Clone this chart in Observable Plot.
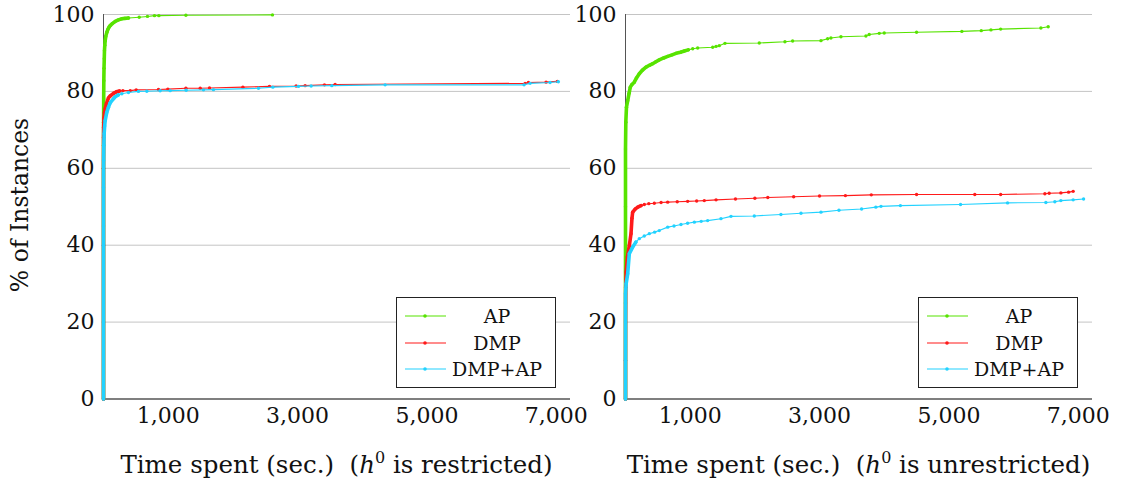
<!DOCTYPE html>
<html>
<head>
<meta charset="utf-8">
<script src="https://cdn.jsdelivr.net/npm/d3@7"></script>
<script src="https://cdn.jsdelivr.net/npm/@observablehq/plot@0.6"></script>
<style>
  html, body { margin: 0; padding: 0; background: #fff; }
  #wrap { position: relative; width: 1124px; height: 487px; font-family: "DejaVu Serif", serif; color: #111; }
  .panel { position: absolute; top: 0; }
  .xlabel { position: absolute; top: 450px; font-size: 24.5px; white-space: nowrap; transform: translateX(-50%); font-family: "DejaVu Serif", serif; }
  .ylabel { position: absolute; left: 20px; top: 205px; font-size: 23.5px; white-space: nowrap; transform: translate(-50%, -50%) rotate(-90deg); font-family: "DejaVu Serif", serif; }
  .legend { position: absolute; top: 297px; width: 158px; height: 89px; border: 1px solid #222; background: #fff; font-size: 19px; font-family: "DejaVu Serif", serif; }
  .legend .row { position: absolute; left: 0; width: 158px; height: 24px; }
  .legend svg { position: absolute; left: 0; top: 0; }
  .legend .lab { position: absolute; left: 100px; top: 0; transform: translateX(-50%); line-height: 24px; white-space: nowrap; }
</style>
</head>
<body>
<div id="wrap"></div>
<script>
// ---- data ----
const seriesNames = ["AP", "DMP", "DMP+AP"];
const seriesColors = ["#57e300", "#ff1a1a", "#22d2ff"];
const xTicks = [1000, 3000, 5000, 7000];
const yTicks = [0, 20, 40, 60, 80, 100];
const xLabels = ["restricted", "unrestricted"];

// h0 restricted
const apRestrictedTime = [0, 0, 0, 0, 1, 2, 3, 5, 8, 12, 15, 20, 26, 35, 52, 70, 85, 103, 140, 181, 230, 284, 330, 386, 552, 680, 788, 856, 1274, 2612];
const apRestrictedPct  = [0, 20, 45, 60, 66, 72, 78, 82.8, 86, 88.5, 90.6, 92, 93.2, 94.3, 95.4, 96.2, 96.7, 97.1, 97.7, 98.2, 98.6, 98.9, 99.0, 99.1, 99.3, 99.5, 99.7, 99.7, 99.8, 99.9];
const dmpRestrictedTime = [0, 0, 0, 0, 1, 3, 8, 15, 26, 45, 77, 103, 155, 200, 247, 300, 413, 505, 850, 995, 1274, 1495, 1639, 2155, 2566, 2978, 3117, 3416, 3581, 6518, 6569, 6842, 7017];
const dmpRestrictedPct  = [0, 20, 40, 60, 68, 70.7, 73, 74.5, 75.5, 76.8, 78.3, 78.8, 79.5, 79.9, 80.1, 80.2, 80.2, 80.4, 80.5, 80.6, 80.8, 80.8, 80.9, 81.1, 81.3, 81.4, 81.5, 81.7, 81.8, 82.1, 82.3, 82.4, 82.6];
const dmpApRestrictedTime = [0, 0, 0, 0, 2, 5, 10, 18, 26, 50, 77, 103, 155, 181, 230, 284, 386, 541, 670, 876, 1031, 1278, 1546, 1700, 2396, 2618, 3014, 3210, 3530, 4354, 6502, 6595, 6904, 7032];
const dmpApRestrictedPct  = [0, 20, 40, 55, 62, 66, 69, 71, 72.4, 74.5, 75.9, 77, 78.1, 78.6, 79.1, 79.4, 79.7, 80.0, 80.05, 80.15, 80.2, 80.3, 80.4, 80.45, 80.8, 81.1, 81.3, 81.4, 81.5, 81.7, 81.7, 82.1, 82.3, 82.5];

// h0 unrestricted
const apUnrestrictedTime = [0, 0, 0, 0, 5, 15, 34, 55, 74, 100, 136, 170, 213, 260, 317, 370, 420, 470, 522, 590, 652, 720, 781, 850, 909, 970, 1039, 1116, 1348, 1400, 1450, 1538, 2068, 2465, 2584, 3022, 3125, 3176, 3331, 3717, 3768, 3923, 4000, 4500, 5200, 5500, 5650, 5800, 6422, 6535];
const apUnrestrictedPct  = [0, 25, 50, 65, 72, 75.9, 77.6, 79.5, 81.1, 81.8, 82.4, 83.5, 84.6, 85.5, 86.3, 86.8, 87.2, 87.7, 88.2, 88.7, 89.1, 89.5, 89.9, 90.2, 90.5, 90.8, 91.1, 91.3, 91.5, 91.7, 91.9, 92.5, 92.6, 92.9, 93.1, 93.2, 93.7, 93.9, 94.2, 94.4, 94.8, 95.1, 95.2, 95.4, 95.6, 95.8, 96.0, 96.2, 96.5, 96.8];
const dmpUnrestrictedTime = [0, 0, 1, 3, 10, 30, 60, 85, 100, 111, 150, 189, 240, 291, 360, 445, 550, 652, 800, 961, 1100, 1218, 1400, 1700, 2000, 2200, 2600, 3000, 3400, 3800, 4500, 5400, 5800, 6484, 6550, 6731, 6850, 6921];
const dmpUnrestrictedPct  = [0, 10, 20, 29, 33, 37, 40, 43, 47, 48.6, 49.4, 49.9, 50.3, 50.6, 50.8, 50.9, 51.1, 51.2, 51.3, 51.4, 51.5, 51.6, 51.8, 52.0, 52.2, 52.4, 52.6, 52.8, 52.9, 53.1, 53.2, 53.2, 53.2, 53.4, 53.5, 53.6, 53.8, 54.0];
const dmpApUnrestrictedTime = [0, 0, 0, 0, 0, 10, 34, 59, 111, 160, 213, 290, 368, 450, 522, 652, 750, 858, 960, 1064, 1170, 1270, 1476, 1631, 1991, 2403, 2713, 3022, 3300, 3650, 3870, 3950, 4250, 5180, 5907, 6499, 6638, 6731, 6921, 7082];
const dmpApUnrestrictedPct  = [0, 10, 20, 25, 27.4, 30, 32.6, 37.8, 39.5, 40.8, 41.7, 42.4, 43.0, 43.4, 43.8, 44.7, 45.0, 45.4, 45.7, 46.0, 46.2, 46.4, 46.9, 47.5, 47.6, 48.0, 48.3, 48.6, 49.1, 49.4, 49.9, 50.1, 50.3, 50.6, 51.0, 51.1, 51.3, 51.6, 51.8, 52.0];

// ---- build ----
function rows(time, pct, name) { return time.map((t, i) => ({ t, p: pct[i], s: name })); }

const panels = [
  [rows(apRestrictedTime, apRestrictedPct, "AP"), rows(dmpRestrictedTime, dmpRestrictedPct, "DMP"), rows(dmpApRestrictedTime, dmpApRestrictedPct, "DMP+AP")],
  [rows(apUnrestrictedTime, apUnrestrictedPct, "AP"), rows(dmpUnrestrictedTime, dmpUnrestrictedPct, "DMP"), rows(dmpApUnrestrictedTime, dmpApUnrestrictedPct, "DMP+AP")]
];

// where the markers are so dense that the curve looks thick (styling)
const denseUpTo = [[450, 260, 250], [1000, 260, 180]];

const layout = [
  { left: 0, width: 580, marginLeft: 103, marginRight: 10 },
  { left: 580, width: 544, marginLeft: 45, marginRight: 32 }
];

const wrap = document.getElementById("wrap");
const SERIF = "DejaVu Serif, serif";

panels.forEach((series, k) => {
  const L = layout[k];
  const marks = [
    Plot.gridY(yTicks.filter(d => d > 0), { stroke: "#c4c4c4", strokeOpacity: 1, strokeWidth: 1 }),
    Plot.axisY(yTicks, { tickSize: 0, tickPadding: 9, label: null, fontSize: 22, fill: "#111" }),
    Plot.axisX(xTicks, { tickSize: 0, tickPadding: 8, label: null, fontSize: 22, fill: "#111", tickFormat: d3.format(",") }),
    Plot.ruleX([0], { stroke: "#555", strokeWidth: 1 }),
    Plot.ruleY([0], { stroke: "#000", strokeWidth: 1.2 })
  ];
  series.forEach((data, j) => {
    marks.push(Plot.line(data, { x: "t", y: "p", stroke: seriesColors[j], strokeWidth: 1.1 }));
    marks.push(Plot.line(data.filter(d => d.t <= denseUpTo[k][j]), { x: "t", y: "p", stroke: seriesColors[j], strokeWidth: 3.6, strokeLinejoin: "round", strokeLinecap: "round" }));
    marks.push(Plot.dot(data, { x: "t", y: "p", fill: seriesColors[j], r: 1.7 }));
  });
  const chart = Plot.plot({
    width: L.width, height: 440,
    marginLeft: L.marginLeft, marginRight: L.marginRight, marginTop: 14, marginBottom: 41.5,
    x: { domain: [0, 7220] },
    y: { domain: [0, 100] },
    style: { fontFamily: SERIF, fontSize: "22px", background: "transparent", overflow: "visible" },
    marks
  });
  const holder = document.createElement("div");
  holder.className = "panel";
  holder.style.left = L.left + "px";
  holder.appendChild(chart);
  wrap.appendChild(holder);

  // x label
  const xl = document.createElement("div");
  xl.className = "xlabel";
  xl.style.left = (L.left + L.marginLeft + (L.width - L.marginLeft - L.marginRight) / 2) + "px";
  xl.innerHTML = "Time spent (sec.)&nbsp; (<i>h</i><sup style='font-size:16px;vertical-align:10px;line-height:0'>0</sup> is " + xLabels[k] + ")";
  wrap.appendChild(xl);

  // legend
  const lg = document.createElement("div");
  lg.className = "legend";
  lg.style.left = (L.left + L.width - L.marginRight - 14 - 160) + "px";
  seriesNames.forEach((name, j) => {
    const r = document.createElement("div");
    r.className = "row";
    r.style.top = (6 + j * 26.5) + "px";
    r.innerHTML = `<svg width="60" height="24"><line x1="8" x2="49" y1="12" y2="12" stroke="${seriesColors[j]}" stroke-width="1.1"/><circle cx="28" cy="12" r="1.8" fill="${seriesColors[j]}"/></svg><span class="lab">${name}</span>`;
    lg.appendChild(r);
  });
  wrap.appendChild(lg);
});

const yl = document.createElement("div");
yl.className = "ylabel";
yl.textContent = "% of Instances";
wrap.appendChild(yl);
</script>
</body>
</html>
